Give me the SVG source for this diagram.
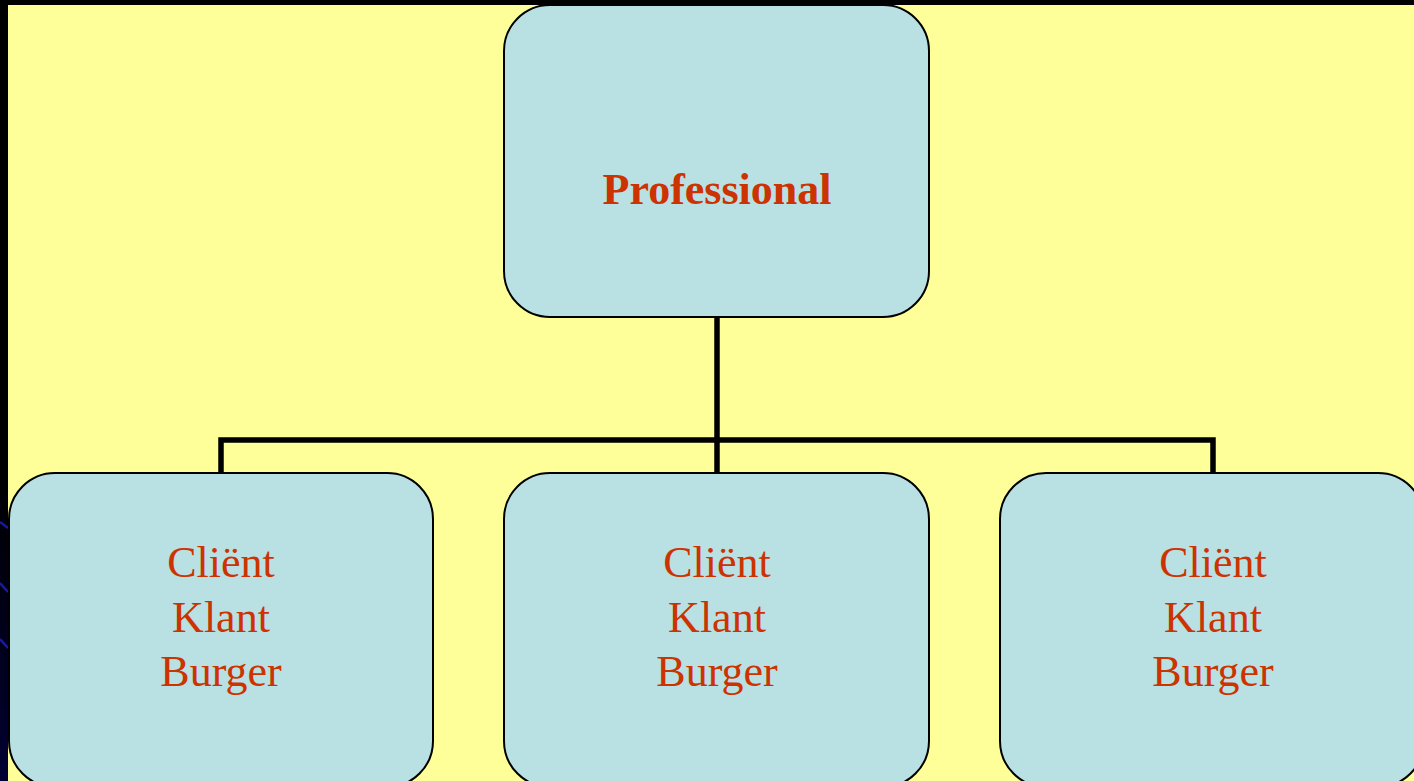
<svg xmlns="http://www.w3.org/2000/svg" width="1414" height="781" viewBox="0 0 1414 781">
<defs>
<linearGradient id="edge" x1="0" y1="0" x2="0" y2="1">
<stop offset="0" stop-color="#000000"/>
<stop offset="0.6" stop-color="#000000"/>
<stop offset="1" stop-color="#000033"/>
</linearGradient>
</defs>
<style>
.box{fill:#B9E0E3;stroke:#000;stroke-width:2}
.lbl{font-family:"Liberation Serif",serif;font-size:44px;fill:#CC3300;text-anchor:middle}
.conn{fill:none;stroke:#000;stroke-width:5.5;stroke-linejoin:miter;stroke-linecap:butt}
</style>
<rect x="0" y="0" width="1414" height="781" fill="#FFFF99"/>
<rect x="0" y="0" width="1414" height="5" fill="#000"/>
<rect x="0" y="0" width="8" height="781" fill="url(#edge)"/>
<g stroke="#1a1aa0" stroke-width="2.5" fill="none">
<line x1="0" y1="522" x2="8" y2="528"/>
<line x1="0" y1="583" x2="8" y2="592"/>
<line x1="0" y1="639" x2="8" y2="648"/>
</g>
<g id="connectors">
<path class="conn" d="M717 317 V440"/>
<path class="conn" d="M221 473 V440 H1213 V473"/>
<path class="conn" d="M717 440 V473"/>
</g>
<g id="professional">
<rect class="box" x="504" y="5" width="425" height="312" rx="46" ry="46"/>
<text class="lbl" x="717" y="204" font-weight="bold" font-size="45">Professional</text>
</g>
<g id="client1">
<rect class="box" x="9" y="473" width="424" height="314" rx="46" ry="46"/>
<text class="lbl" x="221" y="577">Cliënt</text>
<text class="lbl" x="221" y="632">Klant</text>
<text class="lbl" x="221" y="686">Burger</text>
</g>
<g id="client2">
<rect class="box" x="504" y="473" width="425" height="314" rx="46" ry="46"/>
<text class="lbl" x="717" y="577">Cliënt</text>
<text class="lbl" x="717" y="632">Klant</text>
<text class="lbl" x="717" y="686">Burger</text>
</g>
<g id="client3">
<rect class="box" x="1000" y="473" width="424" height="314" rx="46" ry="46"/>
<text class="lbl" x="1213" y="577">Cliënt</text>
<text class="lbl" x="1213" y="632">Klant</text>
<text class="lbl" x="1213" y="686">Burger</text>
</g>
</svg>
